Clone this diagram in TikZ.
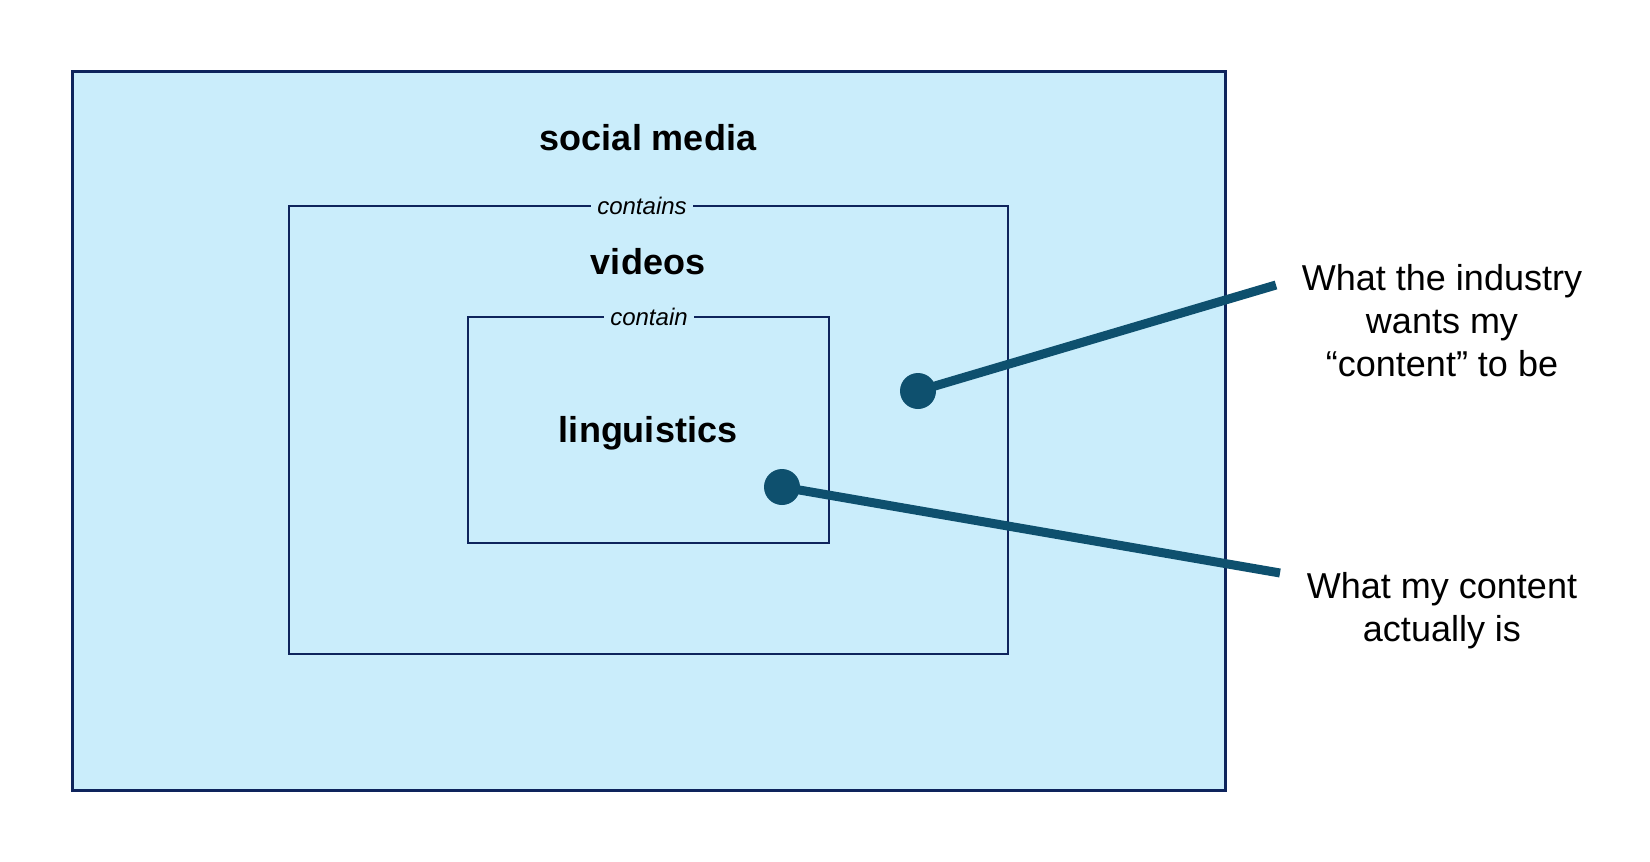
\documentclass[tikz,border=0pt]{standalone}
\usepackage{fontspec}
\setmainfont{Liberation Sans}
\definecolor{boxfill}{RGB}{202,237,251}
\definecolor{boxline}{RGB}{14,36,92}
\definecolor{pointer}{RGB}{14,80,110}
\begin{document}
\begin{tikzpicture}[x=1pt,y=-1pt,
  box/.style={draw=boxline,fill=boxfill,anchor=north west,inner sep=0pt,outer sep=0pt},
  title/.style={font=\fontsize{36}{43}\selectfont\bfseries},
  edgelabel/.style={font=\fontsize{24}{28}\selectfont\itshape,fill=boxfill,inner sep=6pt},
  dot/.style={circle,fill=pointer,minimum size=36pt,inner sep=0pt},
  pointerline/.style={draw=pointer,line width=9pt},
  note/.style={font=\fontsize{36}{43}\selectfont,align=center}]
\useasboundingbox (0,0) rectangle (1650,862);
\node[box,line width=3pt,minimum width=1153pt,minimum height=719pt] (outer) at (72,71) {};
\node[box,line width=2.8pt,minimum width=719pt,minimum height=448pt] (videosbox) at (289,206) {};
\node[box,line width=2.8pt,minimum width=361pt,minimum height=226pt] (lingbox) at (468,317) {};
\node[title] (social) at (648,138) {social media};
\node[title] (videos) at (648,262) {videos};
\node[title] (ling) at (648,433) {linguistics};
\node[edgelabel] (contains) at (642,206) {contains};
\node[edgelabel] (contain) at (649,317) {contain};
\node[note] (industry) at (1442,321) {What the industry\\wants my\\“content” to be};
\node[note] (actual) at (1442,611) {What my content\\actually is};
\coordinate (end1) at (1276,285);
\coordinate (end2) at (1280,573);
\node[dot] (dot1) at (918,391) {};
\node[dot] (dot2) at (782,487) {};
\draw[pointerline] (dot1.center) -- (end1);
\draw[pointerline] (dot2.center) -- (end2);
\end{tikzpicture}
\end{document}
